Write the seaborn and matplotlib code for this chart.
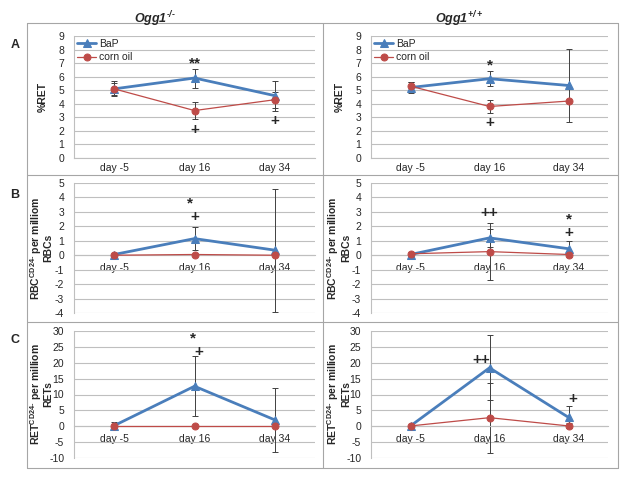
import numpy as np
import pandas as pd
import matplotlib.pyplot as plt
from matplotlib.lines import Line2D
import seaborn as sns

# Datos
days = ["day -5", "day 16", "day 34"]
series = ["BaP", "corn oil"]

# fila A: %RET
a_ko_bap = [5.1, 5.9, 4.6]
a_ko_bap_err = [0.55, 0.7, 1.1]
a_ko_oil = [5.1, 3.5, 4.3]
a_ko_oil_err = [0.45, 0.65, 0.6]
a_wt_bap = [5.2, 5.85, 5.35]
a_wt_bap_err = [0.4, 0.55, 2.7]
a_wt_oil = [5.3, 3.8, 4.2]
a_wt_oil_err = [0.3, 0.45, 0.0]

# fila B: RBC CD24- por millon
b_ko_bap = [0.05, 1.15, 0.35]
b_ko_bap_err = [0.0, 0.8, 4.25]
b_ko_oil = [0.0, 0.05, 0.0]
b_ko_oil_err = [0.0, 0.0, 0.0]
b_wt_bap = [0.05, 1.2, 0.45]
b_wt_bap_err = [0.0, 0.6, 0.55]
b_wt_oil = [0.1, 0.25, 0.05]
b_wt_oil_err = [0.1, 1.95, 0.0]

# fila C: RET CD24- por millon
c_ko_bap = [0.2, 12.6, 2.0]
c_ko_bap_err = [1.2, 9.5, 10.0]
c_ko_oil = [0.0, 0.0, 0.0]
c_ko_oil_err = [0.0, 0.0, 0.0]
c_wt_bap = [0.1, 18.4, 2.8]
c_wt_bap_err = [0.0, 10.2, 3.5]
c_wt_oil = [0.1, 2.7, 0.1]
c_wt_oil_err = [0.0, 11.0, 0.8]

# anotaciones (texto, x, y)
ann = {
    ("A", 0): [("**", 1.0, 7.0), ("+", 1.0, 2.1), ("+", 2.0, 2.7)],
    ("A", 1): [("*", 1.0, 6.8), ("+", 1.0, 2.6)],
    ("B", 0): [("*", 0.94, 3.6), ("+", 1.0, 2.65)],
    ("B", 1): [("++", 1.0, 2.9), ("*", 2.0, 2.5), ("+", 2.0, 1.55)],
    ("C", 0): [("*", 0.98, 27.5), ("+", 1.05, 23.5)],
    ("C", 1): [("++", 0.9, 20.8), ("+", 2.05, 8.7)],
}

rows = {
    "A": [(a_ko_bap, a_ko_bap_err, a_ko_oil, a_ko_oil_err),
          (a_wt_bap, a_wt_bap_err, a_wt_oil, a_wt_oil_err)],
    "B": [(b_ko_bap, b_ko_bap_err, b_ko_oil, b_ko_oil_err),
          (b_wt_bap, b_wt_bap_err, b_wt_oil, b_wt_oil_err)],
    "C": [(c_ko_bap, c_ko_bap_err, c_ko_oil, c_ko_oil_err),
          (c_wt_bap, c_wt_bap_err, c_wt_oil, c_wt_oil_err)],
}
ylims = {"A": (0, 9, 1), "B": (-4, 5, 1), "C": (-10, 30, 5)}
hy = "\u2010"
ylabels = {
    "A": "%RET",
    "B": "RBC$^{CD24" + hy + "}$ per milliom\nRBCs",
    "C": "RET$^{CD24" + hy + "}$ per milliom\nRETs",
}

sns.set_style("white")
plt.rcParams["font.family"] = ["Liberation Sans", "DejaVu Sans"]
plt.rcParams["mathtext.default"] = "regular"
plt.rcParams["axes.unicode_minus"] = False

blue = "#4a7ebb"
red = "#be4b48"
grid_c = "#bfbfbf"

W, H = 633, 482
fig = plt.figure(figsize=(W / 100, H / 100), dpi=100)

col_x = [(74, 315), (371, 608)]
row_y = {"A": (36, 158), "B": (183, 313), "C": (331, 458)}

for r, panels in rows.items():
    y0, y1 = row_y[r]
    lo, hi, step = ylims[r]
    for c, (bap, bap_err, oil, oil_err) in enumerate(panels):
        x0, x1 = col_x[c]
        ax = fig.add_axes([x0 / W, 1 - y1 / H, (x1 - x0) / W, (y1 - y0) / H])
        df = pd.DataFrame({
            "pos": list(range(3)) * 2,
            "value": bap + oil,
            "err": bap_err + oil_err,
            "group": ["BaP"] * 3 + ["corn oil"] * 3,
        })
        for g, col, mk, lw, ms in [("BaP", blue, "^", 2.0, 6), ("corn oil", red, "o", 0.9, 5)]:
            sub = df[df["group"] == g]
            ax.errorbar(sub["pos"], sub["value"], yerr=sub["err"], fmt="none",
                        ecolor="#404040", elinewidth=0.7, capsize=2, capthick=0.7, zorder=2)
            sns.lineplot(data=sub, x="pos", y="value", ax=ax, color=col, marker=mk,
                         markersize=ms, markeredgecolor=col, linewidth=lw, label=g,
                         zorder=3)
        for s in ["top", "right"]:
            ax.spines[s].set_visible(False)
        ax.spines["left"].set_color(grid_c)
        ax.spines["bottom"].set_color(grid_c)
        ax.spines["bottom"].set_position(("data", 0))
        ax.set_xlim(-0.5, 2.5)
        ax.set_ylim(lo, hi)
        ax.set_yticks(np.arange(lo, hi + step / 2, step))
        ax.set_xticks(range(3))
        ax.set_xticklabels(days)
        ax.tick_params(axis="y", labelsize=7.5, length=0, pad=7)
        ax.tick_params(axis="x", labelsize=7.5, length=0, pad=3.5 if r == "A" else 5.5)
        ax.grid(axis="y", color=grid_c, linewidth=0.8)
        ax.set_axisbelow(True)
        ax.set_xlabel("")
        ax.set_ylabel(ylabels[r], fontsize=7.5, fontweight="bold", linespacing=1.0)
        ax.yaxis.set_label_coords(-0.11 if r == "A" else -0.085, 0.5)
        if r == "A":
            ax.legend(loc="upper left", frameon=False, fontsize=7.5, handlelength=1.8,
                      borderaxespad=0.1, labelspacing=0.3, handletextpad=0.3,
                      borderpad=0.2)
        elif ax.get_legend():
            ax.get_legend().remove()
        for txt, tx, ty in ann[(r, c)]:
            ax.text(tx, ty, txt, ha="center", va="center", fontsize=11,
                    fontweight="bold")

# cajas de los paneles
box_c = "#a6a6a6"
xs = [27, 323, 618]
ys = [23, 175, 322, 468]
for x in xs:
    fig.add_artist(Line2D([x / W, x / W], [1 - ys[0] / H, 1 - ys[-1] / H],
                          color=box_c, lw=0.8))
for y in ys:
    fig.add_artist(Line2D([xs[0] / W, xs[-1] / W], [1 - y / H, 1 - y / H],
                          color=box_c, lw=0.8))

# titulos y letras de fila
fig.text(155 / W, 1 - 19 / H, "Ogg1$^{" + hy + "/" + hy + "}$", ha="center",
         va="center", fontsize=9, fontweight="bold", style="italic")
fig.text(459 / W, 1 - 19 / H, "Ogg1$^{+/+}$", ha="center", va="center",
         fontsize=9, fontweight="bold", style="italic")
for lab, yy in [("A", 45), ("B", 195), ("C", 340)]:
    fig.text(15 / W, 1 - yy / H, lab, ha="center", va="center", fontsize=9,
             fontweight="bold")

fig.savefig("out.png", dpi=100, facecolor="white")
